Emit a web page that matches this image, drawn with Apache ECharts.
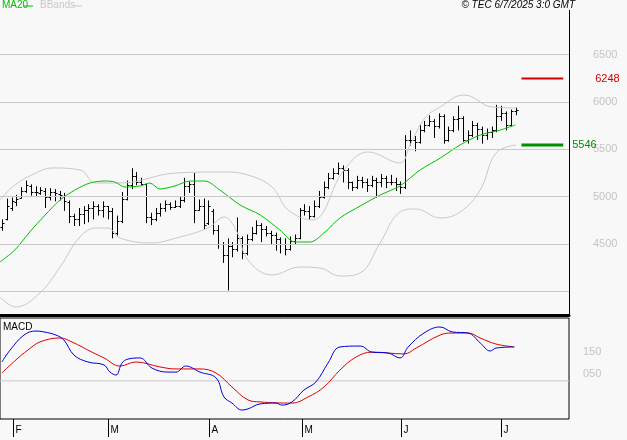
<!DOCTYPE html>
<html><head><meta charset="utf-8">
<script src="https://cdn.jsdelivr.net/npm/echarts@6/dist/echarts.min.js"></script>
<style>html,body{margin:0;padding:0;background:#f8f8f8}#c{width:627px;height:440px}</style>
</head><body><div id="c"></div>
<script>
// OHLC (bar index 0..107, daily, Jan 30 - Jul 3 2025)
const opens=[4680,4760,4880,4940,4990,5060,5110,5050,5040,5060,5000,5050,5030,5010,4940,4800,4760,4820,4860,4880,4900,4860,4900,4850,4620,4740,4980,5120,5220,5150,5130,4780,4760,4830,4880,4920,4890,4900,4960,5110,5130,4860,4900,4720,4850,4650,4500,4380,4480,4450,4560,4400,4550,4620,4700,4660,4620,4600,4550,4500,4450,4530,4560,4860,4850,4800,4900,5000,5100,5200,5250,5300,5280,5150,5100,5180,5150,5120,5180,5150,5200,5150,5160,5130,5100,5600,5600,5580,5700,5760,5800,5750,5850,5600,5700,5820,5830,5600,5650,5760,5720,5650,5680,5700,5850,5880,5760,5900];
const highs=[4760,4980,4990,5020,5100,5170,5130,5110,5100,5090,5090,5080,5060,5040,4960,4820,4880,4900,4920,4950,4920,4950,4900,4880,4800,5050,5170,5300,5260,5200,5140,4830,4880,4930,4960,4940,4960,5000,5200,5160,5250,4970,4980,4960,4870,4700,4520,4560,4520,4780,4580,4600,4680,4750,4720,4690,4640,4620,4570,4560,4580,4600,4880,4920,4900,4960,5060,5160,5250,5300,5360,5330,5300,5160,5220,5210,5190,5220,5200,5240,5220,5230,5200,5160,5650,5700,5640,5760,5800,5860,5820,5880,5870,5740,5850,5960,5850,5700,5800,5780,5740,5720,5740,5970,5960,5900,5920,5940];
const lows=[4640,4750,4850,4900,4980,5040,5010,5000,5020,4880,4960,4950,4960,4850,4720,4690,4690,4710,4730,4760,4800,4780,4760,4560,4590,4720,4960,5080,5120,5120,4720,4700,4740,4790,4840,4860,4880,4880,4940,5040,4720,4850,4650,4700,4600,4450,4300,4010,4360,4420,4340,4380,4530,4600,4520,4580,4500,4430,4400,4380,4430,4500,4550,4800,4760,4780,4880,4980,5080,5180,5230,5150,5080,5060,5080,5090,5050,5100,4990,5100,5090,5120,5060,5030,5080,5540,5480,5560,5680,5740,5620,5720,5560,5580,5680,5700,5580,5560,5630,5600,5560,5600,5620,5680,5800,5700,5740,5860];
const closes=[4720,4900,4950,4980,5060,5120,5050,5050,5070,5000,5050,5040,5020,4950,4800,4760,4820,4860,4880,4900,4860,4900,4850,4620,4740,4980,5120,5220,5150,5130,4780,4760,4830,4880,4920,4890,4900,4960,5110,5130,4860,4900,4700,4900,4650,4500,4380,4480,4450,4560,4400,4550,4620,4700,4660,4620,4600,4550,4500,4450,4530,4560,4860,4850,4800,4900,5000,5100,5200,5250,5300,5280,5150,5100,5180,5150,5120,5180,5150,5200,5150,5160,5130,5100,5600,5600,5580,5700,5760,5800,5750,5850,5600,5700,5820,5830,5600,5650,5760,5720,5650,5680,5700,5850,5880,5760,5900,5920];
// indicators: [bar index, value]
const ma20=[[-0.4,4310],[2.7,4437],[5.8,4627],[9,4806],[12.1,4965],[15.2,5070],[18.3,5144],[21.5,5165],[23.5,5155],[25.6,5102],[28.8,5113],[30.8,5144],[32.9,5081],[36,5113],[39.2,5165],[42.3,5165],[45.4,5070],[49.6,4912],[53.8,4806],[57.9,4648],[61,4521],[64.2,4521],[67.3,4627],[70.4,4775],[74.6,4901],[78.8,5018],[82.9,5113],[87.1,5282],[91.3,5408],[95.4,5546],[99.6,5651],[103.8,5704],[106.9,5757]];
const bbUpper=[[-0.4,4965],[2.7,5123],[7.1,5250],[10.4,5303],[16.25,5282],[19.6,5144],[24.6,5144],[36.25,5250],[46.25,5261],[51.25,5229],[56.25,5102],[59.6,4859],[64.6,4753],[71.25,5282],[76.25,5472],[82.9,5356],[85,5546],[88.1,5831],[91.25,5947],[96.25,6074],[102.1,5947],[107.1,5937]];
const bbLower=[[-0.4,3940],[2.9,3835],[7.9,3982],[12.1,4257],[16.25,4574],[19.6,4669],[22.1,4669],[24.6,4563],[31.25,4511],[36.25,4563],[42.9,4669],[46.25,4785],[48.75,4648],[51.25,4331],[56.25,4173],[62.1,4257],[66.25,4246],[70.4,4162],[74.6,4194],[78.75,4511],[82.9,4838],[86.25,4870],[91.25,4775],[95.4,4838],[99.6,5070],[102.9,5461],[107.1,5546]];
const macdLine=[[0,104],[1.7,157],[4.6,224],[7.1,242],[8.75,238],[11.25,224],[12.9,202],[15,135],[17.9,104],[21.25,91],[22.5,59],[23.75,46],[25,99],[26.25,117],[28.75,122],[31.25,77],[34.6,59],[36.25,59],[38.3,86],[41.25,59],[44.6,33],[46.25,-52],[47.9,-79],[50,-110],[51.25,-105],[53.75,-83],[57.1,-79],[58.3,-88],[60.4,-74],[62.9,-21],[65.4,15],[67.9,99],[70.4,171],[74.6,175],[77.1,148],[80.4,144],[82.9,122],[84.6,171],[87.9,233],[91.25,260],[93.75,238],[97.1,233],[99.6,189],[101.7,153],[102.9,166],[106.7,171]];
const signalLine=[[0,55],[2.9,113],[5.4,157],[7.9,193],[12.1,211],[14.6,193],[18.75,148],[21.25,122],[24.6,86],[27.9,104],[32.9,82],[36.25,73],[41.25,73],[44.6,55],[47.9,-7],[51.25,-65],[53.75,-74],[60.4,-79],[63.75,-52],[67.1,-7],[70.4,68],[73.75,126],[77.1,148],[83.75,140],[86.25,166],[91.25,224],[93.75,233],[97.1,233],[99.6,211],[102.9,184],[106.7,171]];
const priceGrid=[4000,4500,5000,5500,6000,6500];
const resistance=6248, support=5546;
const monthPos=[2.3,22.1,43.1,62.5,83.1,104];
const monthLabels=['F','M','A','M','J','J'];

const ohlc=opens.map((o,i)=>[i,o,highs[i],lows[i],closes[i]]);
const chart=echarts.init(document.getElementById('c'));
const FONT='Liberation Sans';
chart.setOption({
  backgroundColor:'#f8f8f8',
  animation:false,
  textStyle:{fontFamily:FONT},
  grid:[{left:0,right:58,top:6,bottom:125},{left:0,right:58,top:318,bottom:21,show:true,borderColor:'#000',borderWidth:1}],
  xAxis:[
    {type:'value',gridIndex:0,min:-0.4,max:118.1,axisLine:{onZero:false,lineStyle:{color:'#000',width:3}},axisTick:{show:false},axisLabel:{show:false},splitLine:{show:false}},
    {type:'value',gridIndex:1,min:-0.4,max:118.1,axisLine:{show:false},axisTick:{show:false},axisLabel:{show:false},splitLine:{show:false}}
  ],
  yAxis:[
    {type:'value',gridIndex:0,position:'right',min:3750,max:7014,interval:250,
     axisLine:{show:true,onZero:false,lineStyle:{color:'#000'}},axisTick:{show:false},
     axisLabel:{margin:24,color:'#c4c4c4',fontSize:11,formatter:v=>(v%500===0&&v>=4500&&v<=6500)?String(v):''},
     splitLine:{show:false}},
    {type:'value',gridIndex:1,position:'right',min:-150,max:300,interval:50,
     axisLine:{show:false,onZero:false},axisTick:{show:false},
     axisLabel:{margin:14,color:'#c4c4c4',fontSize:11,formatter:v=>v===150?'150':(v===50?'050':'')},
     splitLine:{show:false}}
  ],
  graphic:[
    {type:'text',left:2,top:0,style:{text:'MA20',fill:'#00c000',font:'10px '+FONT}},
    {type:'line',shape:{x1:24,y1:6,x2:33,y2:6},style:{stroke:'#00c000',lineWidth:1}},
    {type:'text',left:40,top:0,style:{text:'BBands',fill:'#c8c8c8',font:'10px '+FONT}},
    {type:'line',shape:{x1:73,y1:6,x2:82,y2:6},style:{stroke:'#c8c8c8',lineWidth:1}},
    {type:'rect',shape:{x:560,y:0,width:20,height:10},style:{fill:'#f8f8f8'},z:100},
    {type:'text',right:52,top:0,z:101,style:{text:'© TEC 6/7/2025 3:0 GMT',fill:'#000',font:'italic 10px '+FONT}},
    {type:'text',left:3,top:322,style:{text:'MACD',fill:'#000',font:'10px '+FONT}}
  ],
  series:[
    {type:'line',data:bbUpper,smooth:0.4,symbol:'none',lineStyle:{color:'#c8c8c8',width:1},
     markLine:{silent:true,symbol:'none',label:{show:false},lineStyle:{color:'#c8c8c8',type:'solid',width:1},data:priceGrid.map(v=>({yAxis:v}))}},
    {type:'line',data:bbLower,smooth:0.4,symbol:'none',lineStyle:{color:'#c8c8c8',width:1}},
    {type:'line',data:ma20,smooth:0.3,symbol:'none',lineStyle:{color:'#00c000',width:1}},
    {type:'custom',xAxisIndex:0,yAxisIndex:0,data:ohlc,renderItem:(p,api)=>{
      const x=api.value(0);
      const o=api.coord([x,api.value(1)]),h=api.coord([x,api.value(2)]),l=api.coord([x,api.value(3)]),c=api.coord([x,api.value(4)]);
      const xx=Math.round(h[0])+0.5;
      const st={stroke:'#000',lineWidth:1};
      return {type:'group',children:[
        {type:'line',shape:{x1:xx,y1:h[1],x2:xx,y2:l[1]},style:st},
        {type:'line',shape:{x1:xx-2,y1:Math.round(o[1])+0.5,x2:xx,y2:Math.round(o[1])+0.5},style:st},
        {type:'line',shape:{x1:xx,y1:Math.round(c[1])+0.5,x2:xx+2,y2:Math.round(c[1])+0.5},style:st}
      ]};
    }},
    {type:'line',data:[[108.2,resistance],[116.9,resistance]],symbol:'none',lineStyle:{color:'#d00000',width:2},
     endLabel:{show:true,formatter:String(resistance),color:'#d00000',fontSize:11,distance:32}},
    {type:'line',data:[[108.2,support],[116.9,support]],symbol:'none',lineStyle:{color:'#009000',width:3},
     endLabel:{show:true,formatter:String(support),color:'#009000',fontSize:11,distance:9}},
    {type:'line',xAxisIndex:1,yAxisIndex:1,data:[[-0.4,20],[118.1,20]],symbol:'none',lineStyle:{color:'#c8c8c8',width:1}},
    {type:'line',xAxisIndex:1,yAxisIndex:1,data:signalLine,smooth:0.4,symbol:'none',lineStyle:{color:'#e00000',width:1}},
    {type:'line',xAxisIndex:1,yAxisIndex:1,data:macdLine,smooth:0.4,symbol:'none',lineStyle:{color:'#0000e0',width:1}},
    {type:'custom',xAxisIndex:1,yAxisIndex:1,clip:false,data:monthPos.map((m,i)=>[m,i]),renderItem:(p,api)=>{
      const pt=api.coord([api.value(0),-150]);
      const xx=Math.round(pt[0])+0.5;
      return {type:'group',children:[
        {type:'line',shape:{x1:xx,y1:pt[1],x2:xx,y2:pt[1]+18},style:{stroke:'#000',lineWidth:1}},
        {type:'text',x:xx+2,y:pt[1]+6,style:{text:monthLabels[api.value(1)],fill:'#000',font:'10px '+FONT}}
      ]};
    }}
  ]
});
</script></body></html>
